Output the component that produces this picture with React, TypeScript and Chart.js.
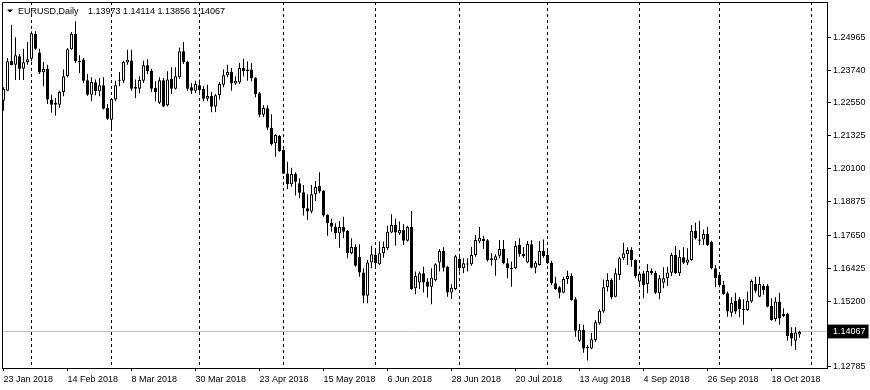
import React, { useEffect, useRef } from 'react';
import { Chart, registerables } from 'chart.js';

Chart.register(...registerables);

const FONT = "'Liberation Sans', Arial, sans-serif";

const symbolTitle = 'EURUSD,Daily';

// x positions are trading-day indexes (bar 0 = 23 Jan 2018)
const dateTickBars = [0, 16, 32, 48, 64, 80, 96, 112, 128, 144, 160, 176, 192];
const dateTickLabels = [
  '23 Jan 2018', '14 Feb 2018', '8 Mar 2018', '30 Mar 2018', '23 Apr 2018', '15 May 2018',
  '6 Jun 2018', '28 Jun 2018', '20 Jul 2018', '13 Aug 2018', '4 Sep 2018', '26 Sep 2018', '18 Oct 2018',
];
// first trading day of each month (period separators)
const separatorBars = [7, 27, 49, 70, 93, 114, 136, 159, 179, 202];

const priceTicks = [1.24965, 1.2374, 1.2255, 1.21325, 1.201, 1.18875, 1.1765, 1.16425, 1.152, 1.12785];

const opens = [
  1.2262, 1.2299, 1.2409, 1.2395, 1.2426, 1.2380, 1.2404, 1.2417, 1.2509, 1.2440,
  1.2367, 1.2379, 1.2265, 1.2254, 1.2247, 1.2294, 1.2352, 1.2452, 1.2509, 1.2410,
  1.2414, 1.2338, 1.2284, 1.2330, 1.2297, 1.2319, 1.2235, 1.2192, 1.2266, 1.2336,
  1.2336, 1.2403, 1.2411, 1.2313, 1.2306, 1.2336, 1.2393, 1.2373, 1.2309, 1.2254,
  1.2338, 1.2245, 1.2343, 1.2306, 1.2349, 1.2445, 1.2405, 1.2312, 1.2299, 1.2319,
  1.2306, 1.2269, 1.2279, 1.2241, 1.2282, 1.2321, 1.2356, 1.2368, 1.2326, 1.2329,
  1.2383, 1.2377, 1.2377, 1.2346, 1.2290, 1.2210, 1.2234, 1.2162, 1.2105, 1.2131,
  1.2080, 1.1993, 1.1953, 1.1991, 1.1957, 1.1923, 1.1864, 1.1852, 1.1916, 1.1947,
  1.1928, 1.1839, 1.1811, 1.1796, 1.1772, 1.1795, 1.1780, 1.1698, 1.1721, 1.1685,
  1.1627, 1.1541, 1.1664, 1.1691, 1.1657, 1.1698, 1.1716, 1.1775, 1.1802, 1.1772,
  1.1784, 1.1744, 1.1795, 1.1568, 1.1590, 1.1624, 1.1593, 1.1574, 1.1598, 1.1664,
  1.1706, 1.1647, 1.1553, 1.1566, 1.1677, 1.1642, 1.1656, 1.1657, 1.1691, 1.1741,
  1.1751, 1.1746, 1.1679, 1.1672, 1.1689, 1.1714, 1.1661, 1.1644, 1.1642, 1.1728,
  1.1696, 1.1664, 1.1731, 1.1644, 1.1654, 1.1706, 1.1691, 1.1663, 1.1587, 1.1572,
  1.1552, 1.1603, 1.1614, 1.1528, 1.1374, 1.1414, 1.1352, 1.1346, 1.1377, 1.1439,
  1.1482, 1.1572, 1.1599, 1.1537, 1.1617, 1.1679, 1.1694, 1.1710, 1.1673, 1.1593,
  1.1624, 1.1584, 1.1632, 1.1626, 1.1550, 1.1589, 1.1605, 1.1626, 1.1691, 1.1624,
  1.1683, 1.1663, 1.1673, 1.1781, 1.1749, 1.1749, 1.1769, 1.1740, 1.1642, 1.1617,
  1.1580, 1.1550, 1.1478, 1.1522, 1.1528, 1.1488, 1.1488, 1.1519, 1.1584, 1.1537,
  1.1577, 1.1577, 1.1503, 1.1454, 1.1519, 1.1466, 1.1473, 1.1404, 1.1374, 1.13973,
];

const highs = [
  1.2312, 1.2420, 1.2543, 1.2497, 1.2435, 1.2454, 1.2479, 1.2519, 1.2519, 1.2454,
  1.2405, 1.2395, 1.2284, 1.2272, 1.2299, 1.2377, 1.2457, 1.2516, 1.2556, 1.2430,
  1.2420, 1.2361, 1.2349, 1.2340, 1.2346, 1.2349, 1.2250, 1.2272, 1.2336, 1.2368,
  1.2410, 1.2450, 1.2450, 1.2340, 1.2352, 1.2410, 1.2415, 1.2380, 1.2334, 1.2349,
  1.2346, 1.2371, 1.2386, 1.2386, 1.2459, 1.2479, 1.2410, 1.2327, 1.2336, 1.2340,
  1.2315, 1.2321, 1.2294, 1.2287, 1.2331, 1.2377, 1.2395, 1.2383, 1.2352, 1.2401,
  1.2417, 1.2408, 1.2401, 1.2349, 1.2294, 1.2245, 1.2245, 1.2212, 1.2138, 1.2135,
  1.2082, 1.2036, 1.2014, 1.1997, 1.1975, 1.1950, 1.1916, 1.1950, 1.1965, 1.1997,
  1.1932, 1.1842, 1.1825, 1.1809, 1.1817, 1.1833, 1.1784, 1.1753, 1.1731, 1.1731,
  1.1642, 1.1673, 1.1726, 1.1706, 1.1741, 1.1741, 1.1800, 1.1842, 1.1825, 1.1815,
  1.1805, 1.1800, 1.1854, 1.1630, 1.1630, 1.1648, 1.1605, 1.1642, 1.1661, 1.1714,
  1.1721, 1.1652, 1.1583, 1.1691, 1.1696, 1.1679, 1.1679, 1.1721, 1.1765, 1.1795,
  1.1763, 1.1751, 1.1698, 1.1694, 1.1747, 1.1747, 1.1679, 1.1667, 1.1743, 1.1753,
  1.1721, 1.1743, 1.1746, 1.1669, 1.1743, 1.1749, 1.1707, 1.1670, 1.1611, 1.1577,
  1.1611, 1.1633, 1.1624, 1.1535, 1.1436, 1.1433, 1.1359, 1.1404, 1.1451, 1.1491,
  1.1601, 1.1624, 1.1605, 1.1642, 1.1685, 1.1737, 1.1720, 1.1720, 1.1675, 1.1630,
  1.1633, 1.1658, 1.1642, 1.1633, 1.1617, 1.1646, 1.1648, 1.1700, 1.1725, 1.1710,
  1.1720, 1.1716, 1.1802, 1.1811, 1.1818, 1.1786, 1.1796, 1.1744, 1.1654, 1.1624,
  1.1596, 1.1556, 1.1535, 1.1552, 1.1535, 1.1528, 1.1556, 1.1601, 1.1611, 1.1611,
  1.1584, 1.1584, 1.1531, 1.1535, 1.1552, 1.1494, 1.1478, 1.1424, 1.1424, 1.14114,
];

const lows = [
  1.2225, 1.2298, 1.2393, 1.2339, 1.2339, 1.2339, 1.2395, 1.2408, 1.2450, 1.2361,
  1.2315, 1.2250, 1.2217, 1.2207, 1.2235, 1.2278, 1.2349, 1.2450, 1.2401, 1.2364,
  1.2327, 1.2280, 1.2260, 1.2282, 1.2278, 1.2229, 1.2191, 1.2151, 1.2260, 1.2315,
  1.2327, 1.2395, 1.2299, 1.2272, 1.2290, 1.2327, 1.2361, 1.2294, 1.2260, 1.2250,
  1.2238, 1.2241, 1.2287, 1.2303, 1.2343, 1.2398, 1.2299, 1.2287, 1.2290, 1.2290,
  1.2260, 1.2260, 1.2219, 1.2220, 1.2266, 1.2312, 1.2349, 1.2299, 1.2321, 1.2324,
  1.2352, 1.2336, 1.2334, 1.2275, 1.2201, 1.2201, 1.2154, 1.2096, 1.2055, 1.2073,
  1.1991, 1.1935, 1.1944, 1.1911, 1.1901, 1.1837, 1.1821, 1.1846, 1.1891, 1.1920,
  1.1833, 1.1763, 1.1777, 1.1751, 1.1718, 1.1753, 1.1679, 1.1694, 1.1648, 1.1611,
  1.1513, 1.1513, 1.1642, 1.1642, 1.1654, 1.1681, 1.1710, 1.1772, 1.1726, 1.1765,
  1.1728, 1.1741, 1.1562, 1.1546, 1.1566, 1.1553, 1.1534, 1.1509, 1.1593, 1.1630,
  1.1630, 1.1537, 1.1529, 1.1562, 1.1630, 1.1624, 1.1630, 1.1652, 1.1685, 1.1735,
  1.1714, 1.1667, 1.1652, 1.1615, 1.1679, 1.1657, 1.1605, 1.1574, 1.1640, 1.1685,
  1.1681, 1.1661, 1.1642, 1.1624, 1.1652, 1.1681, 1.1658, 1.1580, 1.1562, 1.1531,
  1.1550, 1.1584, 1.1522, 1.1389, 1.1371, 1.1330, 1.1301, 1.1343, 1.1371, 1.1433,
  1.1478, 1.1556, 1.1528, 1.1535, 1.1599, 1.1673, 1.1654, 1.1648, 1.1605, 1.1584,
  1.1531, 1.1550, 1.1617, 1.1547, 1.1528, 1.1568, 1.1577, 1.1614, 1.1621, 1.1614,
  1.1658, 1.1654, 1.1670, 1.1749, 1.1728, 1.1728, 1.1725, 1.1639, 1.1572, 1.1572,
  1.1544, 1.1463, 1.1463, 1.1473, 1.1461, 1.1433, 1.1485, 1.1515, 1.1552, 1.1535,
  1.1544, 1.1498, 1.1448, 1.1445, 1.1433, 1.1461, 1.1374, 1.1355, 1.1340, 1.13856,
];

const closes = [
  1.2305, 1.2408, 1.2394, 1.2430, 1.2380, 1.2404, 1.2415, 1.2511, 1.2454, 1.2366,
  1.2379, 1.2266, 1.2247, 1.2247, 1.2294, 1.2352, 1.2452, 1.2510, 1.2408, 1.2404,
  1.2336, 1.2284, 1.2331, 1.2297, 1.2319, 1.2232, 1.2195, 1.2268, 1.2319, 1.2339,
  1.2405, 1.2413, 1.2306, 1.2306, 1.2339, 1.2393, 1.2371, 1.2306, 1.2294, 1.2338,
  1.2241, 1.2340, 1.2306, 1.2352, 1.2445, 1.2404, 1.2306, 1.2299, 1.2324, 1.2302,
  1.2269, 1.2279, 1.2240, 1.2282, 1.2324, 1.2356, 1.2368, 1.2326, 1.2336, 1.2383,
  1.2371, 1.2371, 1.2346, 1.2287, 1.2210, 1.2235, 1.2162, 1.2101, 1.2135, 1.2076,
  1.1992, 1.1953, 1.1991, 1.1962, 1.1922, 1.1864, 1.1852, 1.1916, 1.1943, 1.1926,
  1.1837, 1.1809, 1.1796, 1.1772, 1.1795, 1.1777, 1.1698, 1.1721, 1.1652, 1.1627,
  1.1541, 1.1664, 1.1694, 1.1661, 1.1698, 1.1721, 1.1777, 1.1802, 1.1775, 1.1784,
  1.1744, 1.1795, 1.1566, 1.1614, 1.1624, 1.1590, 1.1574, 1.1607, 1.1657, 1.1706,
  1.1644, 1.1553, 1.1570, 1.1687, 1.1642, 1.1661, 1.1658, 1.1691, 1.1747, 1.1755,
  1.1743, 1.1673, 1.1672, 1.1687, 1.1714, 1.1661, 1.1642, 1.1640, 1.1725, 1.1694,
  1.1687, 1.1732, 1.1644, 1.1663, 1.1706, 1.1688, 1.1661, 1.1587, 1.1566, 1.1552,
  1.1603, 1.1614, 1.1525, 1.1411, 1.1414, 1.1346, 1.1347, 1.1380, 1.1443, 1.1485,
  1.1572, 1.1599, 1.1535, 1.1624, 1.1679, 1.1698, 1.1710, 1.1673, 1.1614, 1.1621,
  1.1580, 1.1632, 1.1624, 1.1552, 1.1605, 1.1605, 1.1627, 1.1691, 1.1624, 1.1685,
  1.1663, 1.1675, 1.1781, 1.1753, 1.1744, 1.1769, 1.1728, 1.1642, 1.1605, 1.1580,
  1.1547, 1.1482, 1.1515, 1.1482, 1.1491, 1.1493, 1.1522, 1.1595, 1.1559, 1.1584,
  1.1562, 1.1500, 1.1451, 1.1519, 1.1457, 1.1473, 1.1392, 1.1383, 1.1405, 1.14067,
];

export default function App() {
  const ref = useRef<HTMLCanvasElement>(null);

  useEffect(() => {
    document.body.style.margin = '0';
    const canvas = ref.current;
    if (!canvas) return;

    const idx = closes.map((_, i) => i);
    const bullish = closes.map((c, i) => c >= opens[i]);
    const last = closes.length - 1;
    const lastClose = closes[last];
    const isLast = (c: any) => !!(c && c.tick && Math.abs(c.tick.value - lastClose) < 1e-9);

    const chromePlugin = {
      id: 'mtChrome',
      beforeDatasetsDraw(chart: any) {
        const { ctx, chartArea, scales } = chart;
        const xs = scales.x;
        ctx.save();
        ctx.strokeStyle = '#000000';
        ctx.lineWidth = 1;
        ctx.setLineDash([3, 3]);
        for (const b of separatorBars) {
          const px = Math.floor(xs.getPixelForValue(b)) + 0.5;
          if (px < chartArea.left || px > chartArea.right) continue;
          ctx.beginPath();
          ctx.moveTo(px, chartArea.top);
          ctx.lineTo(px, chartArea.bottom);
          ctx.stroke();
        }
        ctx.restore();
      },
      afterDraw(chart: any) {
        const { ctx, chartArea } = chart;
        ctx.save();
        ctx.strokeStyle = '#000000';
        ctx.lineWidth = 1;
        ctx.beginPath();
        ctx.moveTo(chartArea.left + 0.5, chartArea.bottom);
        ctx.lineTo(chartArea.left + 0.5, chartArea.top + 0.5);
        ctx.lineTo(chartArea.right, chartArea.top + 0.5);
        ctx.stroke();
        // header
        ctx.fillStyle = '#000000';
        ctx.beginPath();
        ctx.moveTo(7, 9.5);
        ctx.lineTo(13, 9.5);
        ctx.lineTo(10, 12.5);
        ctx.closePath();
        ctx.fill();
        ctx.font = `9px ${FONT}`;
        ctx.textBaseline = 'alphabetic';
        ctx.textAlign = 'left';
        ctx.fillText(symbolTitle, 18, 14);
        const hdr = [opens[last], highs[last], lows[last], closes[last]].map((v) => v.toFixed(5)).join(' ');
        ctx.fillText(hdr, 88, 14);
        ctx.restore();
      },
    };

    const chart = new Chart(canvas, {
      type: 'bar',
      data: {
        datasets: [
          {
            label: 'body',
            data: idx.map((i) => ({ x: i, y: [opens[i], closes[i]] })) as any,
            backgroundColor: bullish.map((b) => (b ? '#ffffff' : '#000000')),
            borderColor: '#000000',
            borderWidth: 1,
            borderSkipped: false,
            grouped: false,
            barThickness: 3,
            maxBarThickness: 3,
            minBarLength: 1,
            inflateAmount: 0,
            order: 0,
          } as any,
          {
            label: 'wick',
            data: idx.map((i) => ({ x: i, y: [lows[i], highs[i]] })) as any,
            backgroundColor: '#000000',
            borderWidth: 0,
            grouped: false,
            barThickness: 1,
            maxBarThickness: 1,
            inflateAmount: 0,
            order: 1,
          } as any,
        ],
      },
      options: {
        responsive: false,
        maintainAspectRatio: false,
        devicePixelRatio: 1,
        animation: false,
        layout: { padding: { left: 2, top: 2, right: 0, bottom: 0 } },
        plugins: { legend: { display: false }, tooltip: { enabled: false } },
        scales: {
          x: {
            type: 'linear',
            position: 'bottom',
            min: -0.375,
            max: 205.875,
            offset: false,
            afterBuildTicks: (s: any) => {
              s.ticks = dateTickBars.map((v) => ({ value: v }));
            },
            afterFit: (s: any) => {
              s.height = 22;
              s.paddingLeft = 0;
              s.paddingRight = 0;
            },
            ticks: {
              autoSkip: false,
              maxRotation: 0,
              minRotation: 0,
              align: 'start',
              padding: 3,
              color: '#000000',
              font: { family: FONT, size: 9 },
              callback: (v: any) => {
                const k = dateTickBars.indexOf(Number(v));
                return k >= 0 ? dateTickLabels[k] : '';
              },
            },
            grid: { drawOnChartArea: false, drawTicks: true, tickLength: 3, color: '#000000', offset: false },
            border: { display: true, color: '#000000', width: 1 },
          },
          y: {
            type: 'linear',
            position: 'right',
            min: 1.12735,
            max: 1.2627,
            afterBuildTicks: (s: any) => {
              s.ticks = [...priceTicks, lastClose].sort((a, b) => a - b).map((v) => ({ value: v }));
            },
            afterFit: (s: any) => {
              s.width = 43;
              s.paddingTop = 0;
              s.paddingBottom = 0;
            },
            ticks: {
              autoSkip: false,
              padding: 2,
              font: { family: FONT, size: 9 },
              color: (c: any) => (isLast(c) ? '#ffffff' : '#000000'),
              showLabelBackdrop: (c: any) => isLast(c),
              backdropColor: (c: any) => (isLast(c) ? '#000000' : 'rgba(0,0,0,0)'),
              backdropPadding: { left: 5, right: 3, top: 2, bottom: 1 },
              callback: (v: any) => Number(v).toFixed(5),
            },
            grid: {
              drawOnChartArea: true,
              drawTicks: true,
              tickLength: 4,
              lineWidth: 1,
              color: (c: any) => (isLast(c) ? '#c0c0c0' : 'rgba(0,0,0,0)'),
              tickColor: '#000000',
            },
            border: { display: true, color: '#000000', width: 1 },
          },
        },
      } as any,
      plugins: [chromePlugin],
    });

    return () => chart.destroy();
  }, []);

  return (
    <div style={{ position: 'fixed', left: 0, top: 0, width: 870, height: 390, background: '#ffffff' }}>
      <canvas ref={ref} width={870} height={390} style={{ display: 'block', width: 870, height: 390 }} />
    </div>
  );
}
